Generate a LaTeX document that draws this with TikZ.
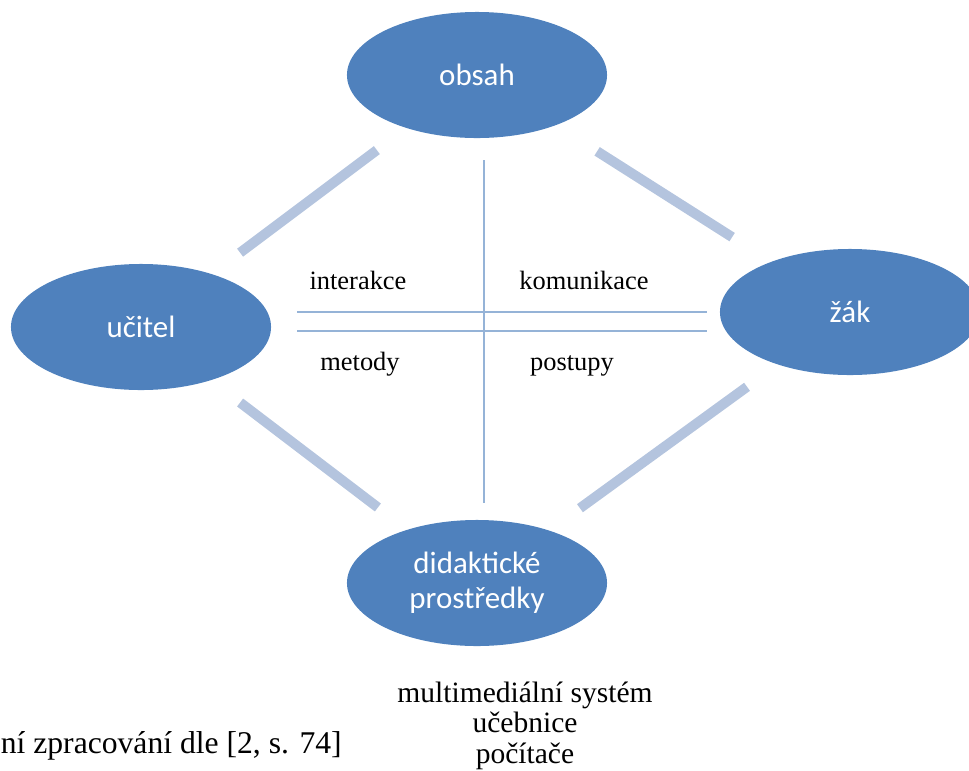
\documentclass[tikz,border=0pt]{standalone}
\usepackage{fontspec}
\setmainfont{Liberation Serif}
\newfontfamily\ovalfont{Carlito}
\usepackage{tikz}
\usetikzlibrary{shapes,positioning,calc}

\definecolor{ovalblue}{RGB}{79,129,189}
\definecolor{linkblue}{RGB}{180,196,222}
\definecolor{crossblue}{RGB}{149,179,215}

\begin{document}
\begin{tikzpicture}[x=0.025cm,y=-0.025cm,
  oval/.style={ellipse,fill=ovalblue,text=white,minimum width=6.5cm,minimum height=3.15cm,
    inner sep=0pt,align=center,font=\ovalfont\fontsize{22}{25}\selectfont},
  link/.style={color=linkblue,line width=7.1pt},
  cross/.style={color=crossblue,line width=1.4pt},
  word/.style={anchor=base,inner sep=0pt,font=\fontsize{18.8}{22}\selectfont}]

    \useasboundingbox (0,0) rectangle (969,771);

% Ellipses.
    \node[oval] (obsah)  at (477,75)  {obsah};
    \node[oval] (ucitel) at (141,327) {učitel};
    \node[oval] (zak)    at (850,312) {žák};
    \node[oval] (didakt) at (477,583) {didaktické\\prostředky};

% Thick links between the ellipses.
    \draw[link] ($(ucitel)!0.295!(obsah)$) -- ($(ucitel)!0.702!(obsah)$);
    \draw[link] ($(obsah)!0.322!(zak)$)    -- ($(obsah)!0.684!(zak)$);
    \draw[link] ($(ucitel)!0.295!(didakt)$) -- ($(ucitel)!0.705!(didakt)$);
    \draw[link] ($(didakt)!0.276!(zak)$)   -- ($(didakt)!0.724!(zak)$);

% Cross in the middle.
    \coordinate (vtop) at (484,160);
    \coordinate (vbot) at (484,503);
    \coordinate (hlup) at (297,312);
    \coordinate (hrup) at (707,312);
    \coordinate (hllo) at (297,331);
    \coordinate (hrlo) at (707,331);
    \draw[cross] (vtop) -- (vbot);
    \draw[cross] (hlup) -- (hrup);
    \draw[cross] (hllo) -- (hrlo);

% Quadrant words.
    \node[word] (interakce)  at (358,289) {interakce};
    \node[word] (komunikace) at (584,289) {komunikace};
    \node[word] (metody)     at (360,370) {metody};
    \node[word] (postupy)    at (572,370) {postupy};

% Texts below (base = last line).
    \node[anchor=base,inner sep=0pt,align=center,font=\fontsize{21}{21.5}\selectfont]
        (means) at (525,763) {multimediální systém\\učebnice\\počítače};
    \node[anchor=base east,inner sep=0pt,font=\fontsize{22.5}{23}\selectfont]
        (source) at (342,753) {ní zpracování dle [2, s. 74]};

\end{tikzpicture}
\end{document}
